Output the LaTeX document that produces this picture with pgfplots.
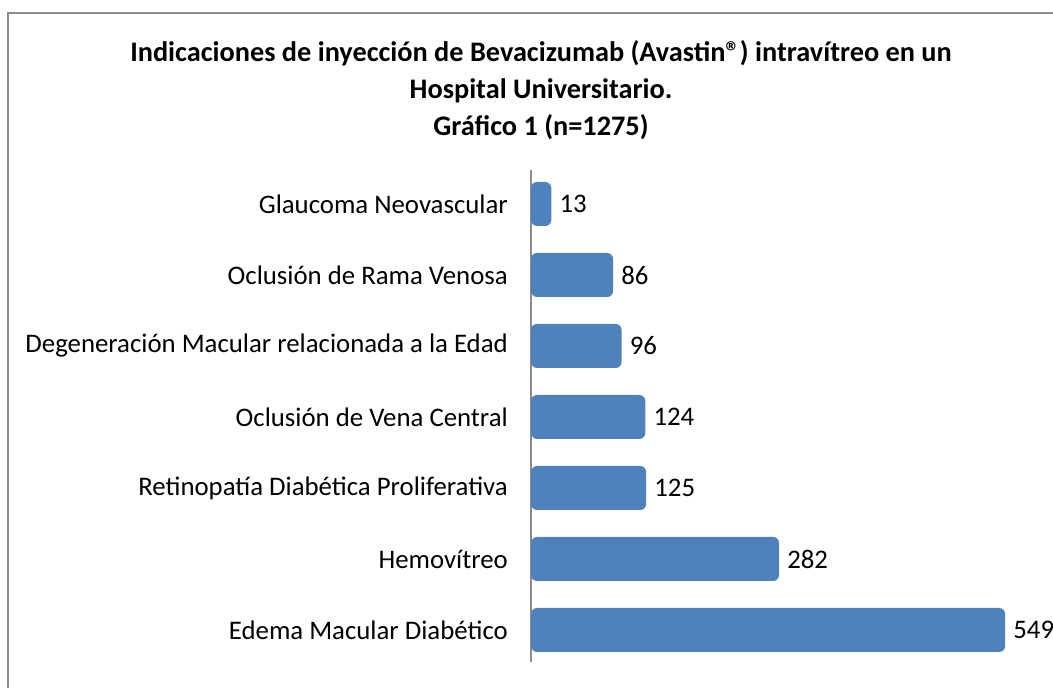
\documentclass[border=0pt]{standalone}
\usepackage{fontspec}
\setmainfont{Carlito}
\usepackage{pgfplots}
\pgfplotsset{compat=1.18}
\definecolor{barblue}{HTML}{4F81BD}
\definecolor{framegray}{HTML}{8C8C8C}
\pgfplotstableread{
c v
0 549
1 282
2 125
3 124
4 96
5 86
6 13
}\datatable
\begin{document}
\begin{tikzpicture}
\useasboundingbox (0,0) rectangle (1053pt,688pt);
\draw[framegray, line width=1.5pt] (8pt,-5pt) -- (8pt,675pt) -- (1060pt,675pt);
\node[font=\fontsize{28.3}{37}\selectfont\bfseries, align=center] at (541pt, 598pt) {Indicaciones de inyección de Bevacizumab (Avastin®) intravítreo en un\\Hospital Universitario.\\Gráfico 1 (n=1275)};
\begin{axis}[
 at={(531pt,58pt)}, anchor=origin,
 x=0.8467pt, y=71pt,
 xmin=0, xmax=600, ymin=-0.45, ymax=6.48,
 axis x line=none,
 axis y line*=left,
 axis line style={framegray, line width=1.2pt, -},
 xbar, bar width=44pt,
 ytick={0,...,6},
 yticklabels={Edema Macular Diabético, Hemovítreo, Retinopatía Diabética Proliferativa, Oclusión de Vena Central, Degeneración Macular relacionada a la Edad, Oclusión de Rama Venosa, Glaucoma Neovascular},
 major tick length=0pt,
 yticklabel style={font=\fontsize{26.8}{32}\selectfont, anchor=east, inner sep=0pt, xshift=-23pt},
 clip=false,
 x filter/.expression={x+11},
 point meta=rawx,
 nodes near coords,
 nodes near coords style={font=\fontsize{26.8}{32}\selectfont, anchor=west, inner sep=0pt, xshift=8pt, text=black},
 /pgf/number format/assume math mode=true,
]
\addplot[fill=barblue, draw=none, rounded corners=6pt] table[x=v, y=c]{\datatable};
\end{axis}
\end{tikzpicture}
\end{document}
